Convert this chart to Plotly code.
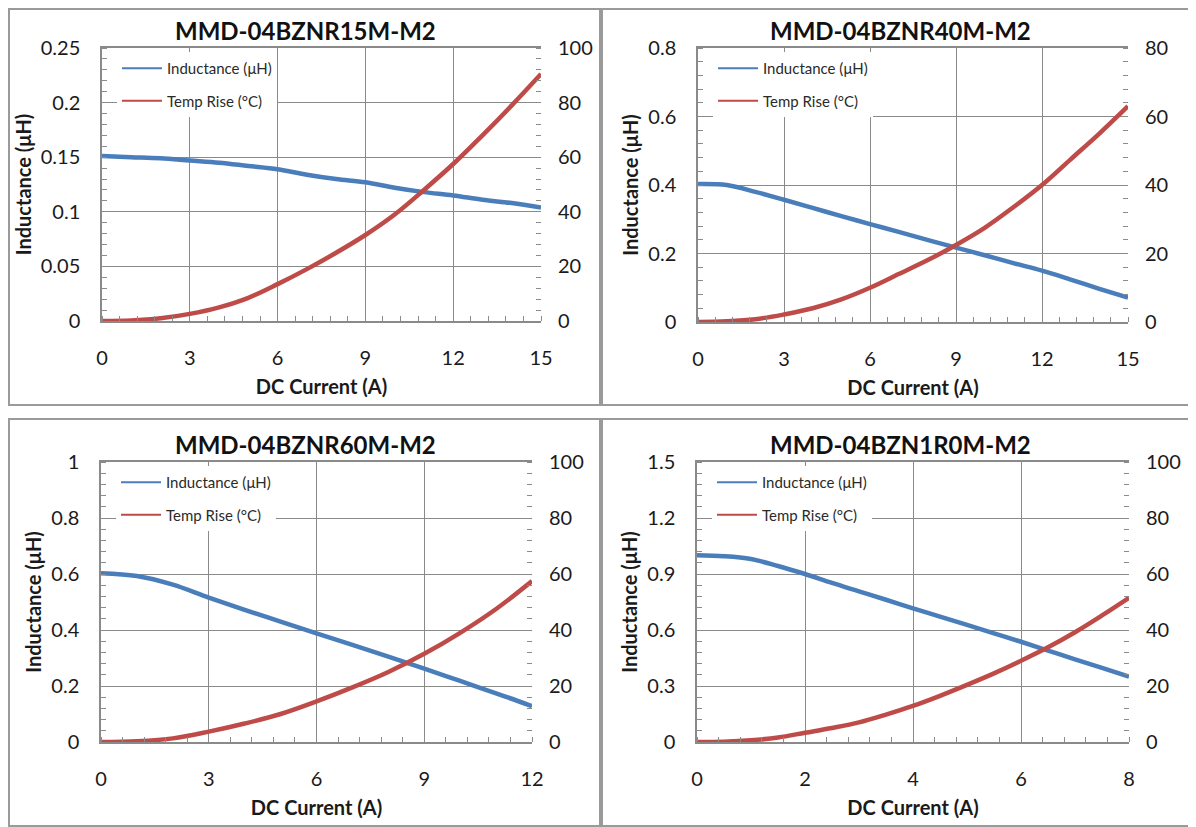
import plotly.graph_objects as go

# ---------------- data ----------------
titles = ["MMD-04BZNR15M-M2", "MMD-04BZNR40M-M2", "MMD-04BZNR60M-M2", "MMD-04BZN1R0M-M2"]
series_names = ["Inductance (μH)", "Temp Rise (°C)"]
x_title = "DC Current (A)"
y_title = "Inductance (μH)"

cur_r15 = [0, 1, 2, 3, 4, 5, 6, 7, 8, 9, 10, 11, 12, 13, 14, 15]
ind_r15 = [0.151, 0.150, 0.149, 0.147, 0.145, 0.142, 0.139, 0.134, 0.130, 0.127, 0.122, 0.118, 0.115, 0.111, 0.108, 0.104]
temp_r15 = [0, 0.2, 1.0, 2.6, 5.0, 8.5, 13.5, 19.0, 25.0, 31.5, 39.0, 48.0, 57.5, 68.0, 79.0, 90.5]

cur_r40 = [0, 1, 2, 3, 4, 5, 6, 7, 8, 9, 10, 11, 12, 13, 14, 15]
ind_r40 = [0.403, 0.400, 0.380, 0.357, 0.333, 0.309, 0.286, 0.263, 0.240, 0.217, 0.195, 0.172, 0.150, 0.124, 0.097, 0.071]
temp_r40 = [0, 0.2, 0.8, 2.2, 4.0, 6.6, 10.0, 14.0, 18.0, 22.5, 27.5, 33.5, 40.0, 47.5, 55.0, 63.0]

cur_r60 = [0, 1, 2, 3, 4, 5, 6, 7, 8, 9, 10, 11, 12]
ind_r60 = [0.603, 0.593, 0.562, 0.516, 0.472, 0.430, 0.388, 0.347, 0.305, 0.262, 0.218, 0.174, 0.128]
temp_r60 = [0, 0.3, 1.3, 3.7, 6.6, 10.0, 14.5, 19.5, 25.0, 31.5, 39.0, 47.5, 57.5]

cur_1r0 = [0, 0.5, 1, 1.5, 2, 2.5, 3, 3.5, 4, 4.5, 5, 5.5, 6, 6.5, 7, 7.5, 8]
ind_1r0 = [1.0, 0.995, 0.98, 0.943, 0.90, 0.852, 0.807, 0.762, 0.716, 0.672, 0.627, 0.582, 0.537, 0.49, 0.443, 0.397, 0.35]
temp_1r0 = [0, 0.1, 0.6, 1.6, 3.3, 5.0, 7.0, 9.8, 12.9, 16.5, 20.4, 24.5, 29.0, 33.8, 39.2, 45.2, 51.5]

x_ticks_r15 = [0, 3, 6, 9, 12, 15]
x_ticks_r40 = [0, 3, 6, 9, 12, 15]
x_ticks_r60 = [0, 3, 6, 9, 12]
x_ticks_1r0 = [0, 2, 4, 6, 8]

y_ticks_r15 = [0, 0.05, 0.1, 0.15, 0.2, 0.25]
y_labels_r15 = ["0", "0.05", "0.1", "0.15", "0.2", "0.25"]
y_ticks_r40 = [0, 0.2, 0.4, 0.6, 0.8]
y_labels_r40 = ["0", "0.2", "0.4", "0.6", "0.8"]
y_ticks_r60 = [0, 0.2, 0.4, 0.6, 0.8, 1.0]
y_labels_r60 = ["0", "0.2", "0.4", "0.6", "0.8", "1"]
y_ticks_1r0 = [0, 0.3, 0.6, 0.9, 1.2, 1.5]
y_labels_1r0 = ["0", "0.3", "0.6", "0.9", "1.2", "1.5"]

y2_ticks_100 = [0, 20, 40, 60, 80, 100]
y2_ticks_80 = [0, 20, 40, 60, 80]

# ---------------- layout helpers ----------------
OFF = 8  # page body margin of the html document
W, H = 1196 - OFF, 827 - OFF
FONT = "Lato, 'Open Sans', sans-serif"
BLUE = "#4A7EBB"
RED = "#BE4B48"
GRID = "#8a8a8a"


def fx(p):
    return (p - OFF) / W


def fy(p):
    return 1 - (p - OFF) / H


panels = [
    dict(title=titles[0], x=cur_r15, L=ind_r15, T=temp_r15, xt=x_ticks_r15, xminor=0.6,
         yt=y_ticks_r15, yl=y_labels_r15, yminor=0.01, y2t=y2_ticks_100, y2minor=4,
         box=(102, 541, 48, 321), frame=(9, 600, 9, 405)),
    dict(title=titles[1], x=cur_r40, L=ind_r40, T=temp_r40, xt=x_ticks_r40, xminor=0.6,
         yt=y_ticks_r40, yl=y_labels_r40, yminor=0.04, y2t=y2_ticks_80, y2minor=4,
         box=(698, 1128, 48, 322), frame=(602, 1200, 9, 405)),
    dict(title=titles[2], x=cur_r60, L=ind_r60, T=temp_r60, xt=x_ticks_r60, xminor=0.6,
         yt=y_ticks_r60, yl=y_labels_r60, yminor=0.04, y2t=y2_ticks_100, y2minor=4,
         box=(101, 532, 462, 742), frame=(9, 600, 419, 826)),
    dict(title=titles[3], x=cur_1r0, L=ind_1r0, T=temp_1r0, xt=x_ticks_1r0, xminor=0.4,
         yt=y_ticks_1r0, yl=y_labels_1r0, yminor=0.06, y2t=y2_ticks_100, y2minor=4,
         box=(697, 1129, 462, 742), frame=(602, 1200, 419, 826)),
]

fig = go.Figure()
layout = dict(
    width=W, height=H, margin=dict(l=0, r=0, t=0, b=0, autoexpand=False),
    paper_bgcolor="white", plot_bgcolor="white",
    font=dict(family=FONT, color="#1a1a1a", size=20),
    shapes=[], annotations=[],
)

for i, p in enumerate(panels):
    n = i + 1
    xa = "x" if n == 1 else f"x{n}"
    ya = "y" if n == 1 else f"y{2*n-1}"
    ya2 = f"y{2*n}"
    leg = "legend" if n == 1 else f"legend{n}"
    x0, x1, y0, y1 = p["box"]

    fig.add_trace(go.Scatter(x=p["x"], y=p["L"], xaxis=xa, yaxis=ya, mode="lines",
                             line=dict(color=BLUE, width=4.5, shape="spline", smoothing=1.0),
                             showlegend=False, hoverinfo="skip"))
    fig.add_trace(go.Scatter(x=p["x"], y=p["T"], xaxis=xa, yaxis=ya2, mode="lines",
                             line=dict(color=RED, width=4.5, shape="spline", smoothing=1.0),
                             showlegend=False, hoverinfo="skip"))
    # legend entries (thin lines as in the reference legend)
    for nm, col in zip(series_names, [BLUE, RED]):
        fig.add_trace(go.Scatter(x=[None], y=[None], xaxis=xa, yaxis=ya, mode="lines",
                                 name=nm, line=dict(color=col, width=2),
                                 legend=leg, legendgroup=f"{n}{nm}", showlegend=True))

    xkey = "xaxis" if n == 1 else f"xaxis{n}"
    ykey = "yaxis" if n == 1 else f"yaxis{2*n-1}"
    y2key = f"yaxis{2*n}"
    xmax = p["xt"][-1]
    layout[xkey] = dict(
        domain=[fx(x0), fx(x1)], anchor=ya, range=[0, xmax], automargin=False,
        tickmode="array", tickvals=p["xt"], ticks="", ticklabelstandoff=18,
        showgrid=True, gridcolor=GRID, gridwidth=1,
        showline=True, linecolor=GRID, linewidth=1.5, mirror=True, zeroline=False,
        tickfont=dict(size=20, family=FONT, color="#1a1a1a"),
        minor=dict(dtick=p["xminor"], tick0=0, ticks="inside", ticklen=5,
                   tickcolor=GRID, tickwidth=1, showgrid=False),
        title=dict(text=f"<b>{x_title}</b>", standoff=12,
                   font=dict(size=20, family=FONT, color="#1a1a1a")),
        fixedrange=True,
    )
    layout[ykey] = dict(
        domain=[fy(y1), fy(y0)], anchor=xa, range=[0, p["yt"][-1]], automargin=False,
        tickmode="array", tickvals=p["yt"], ticktext=p["yl"], ticks="", ticklabelstandoff=16,
        showgrid=True, gridcolor=GRID, gridwidth=1,
        showline=True, linecolor=GRID, linewidth=1.5, zeroline=False,
        tickfont=dict(size=20, family=FONT, color="#1a1a1a"),
        minor=dict(dtick=p["yminor"], tick0=0, ticks="inside", ticklen=5,
                   tickcolor=GRID, tickwidth=1, showgrid=False),
        title=dict(text=f"<b>{y_title}</b>", standoff=4,
                   font=dict(size=20, family=FONT, color="#1a1a1a")),
        fixedrange=True,
    )
    layout[y2key] = dict(
        overlaying=ya, side="right", anchor=xa, range=[0, p["y2t"][-1]], automargin=False,
        tickmode="array", tickvals=p["y2t"], ticks="", ticklabelstandoff=16,
        showgrid=False, showline=False, zeroline=False,
        tickfont=dict(size=20, family=FONT, color="#1a1a1a"),
        minor=dict(dtick=p["y2minor"], tick0=0, ticks="inside", ticklen=5,
                   tickcolor=GRID, tickwidth=1, showgrid=False),
        fixedrange=True,
    )
    layout[leg] = dict(
        x=fx(x0 + 15), y=fy(y0 + 4), xanchor="left", yanchor="top",
        bgcolor="white", borderwidth=0, tracegroupgap=10, itemwidth=40,
        font=dict(size=15, family=FONT, color="#2a2a2a"),
    )
    fx0, fx1, fy0, fy1 = p["frame"]
    layout["shapes"].append(dict(type="rect", xref="paper", yref="paper",
                                 x0=fx(fx0), x1=fx(fx1), y0=fy(fy1), y1=fy(fy0),
                                 line=dict(color="#9a9a9a", width=2), layer="below"))
    layout["annotations"].append(dict(text=f"<b>{p['title']}</b>", xref="paper", yref="paper",
                                      x=fx((fx0 + min(fx1, 1196)) / 2 + 1), y=fy(y0 - 18),
                                      xanchor="center", yanchor="middle", showarrow=False,
                                      font=dict(size=24, family=FONT, color="#111111")))

fig.update_layout(**layout)
fig.write_html("out.html")
